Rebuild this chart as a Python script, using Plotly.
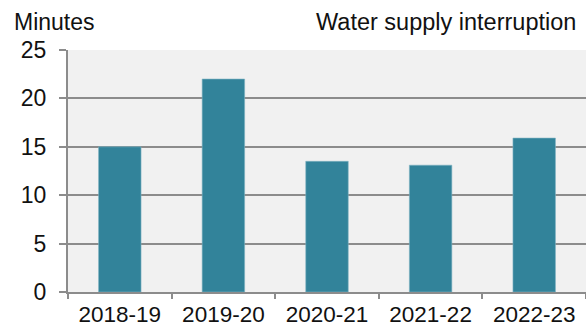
import plotly.graph_objects as go

years = ["2018-19", "2019-20", "2020-21", "2021-22", "2022-23"]
minutes = [15.0, 22.0, 13.5, 13.1, 15.9]
y_ticks = [0, 5, 10, 15, 20, 25]

FONT = "Liberation Sans, Arial, sans-serif"
GRID = "#8c8c8c"
TXT = "#111111"
FS = 23

fig = go.Figure(
    go.Bar(
        x=years,
        y=minutes,
        marker=dict(color="#32839A", line=dict(color="#7fb3c2", width=0.6)),
        width=0.41,
    )
)

fig.update_layout(
    width=586,
    height=329,
    margin=dict(l=68, r=0, t=50, b=37),
    paper_bgcolor="white",
    plot_bgcolor="#f1f1f1",
    showlegend=False,
    font=dict(family=FONT, size=FS, color=TXT),
    annotations=[
        dict(text="Minutes", xref="paper", yref="paper", x=(12 - 68) / 518, y=1.0,
             xanchor="left", yanchor="middle", yshift=28, showarrow=False,
             font=dict(family=FONT, size=FS, color=TXT)),
        dict(text="Water supply interruption", xref="paper", yref="paper",
             x=(578 - 68) / 518, y=1.0, xanchor="right", yanchor="middle",
             yshift=28, showarrow=False,
             font=dict(family=FONT, size=23.5, color=TXT)),
    ],
)

fig.update_xaxes(
    type="category",
    range=[-0.5, 4.5],
    automargin=False,
    showline=True, linecolor=GRID, linewidth=2,
    ticks="outside", tickson="boundaries", ticklen=5, tickwidth=2, tickcolor=GRID,
    ticklabelstandoff=1,
    showgrid=False,
    tickfont=dict(family=FONT, size=22.5, color=TXT),
)

fig.update_yaxes(
    range=[0, 25],
    tickvals=y_ticks,
    automargin=False,
    showline=True, linecolor=GRID, linewidth=2,
    ticks="outside", ticklen=7, tickwidth=2, tickcolor=GRID,
    ticklabelstandoff=8,
    showgrid=True, gridcolor=GRID, gridwidth=2,
    zeroline=False,
    tickfont=dict(family=FONT, size=FS, color=TXT),
)

fig.write_html("out.html")
